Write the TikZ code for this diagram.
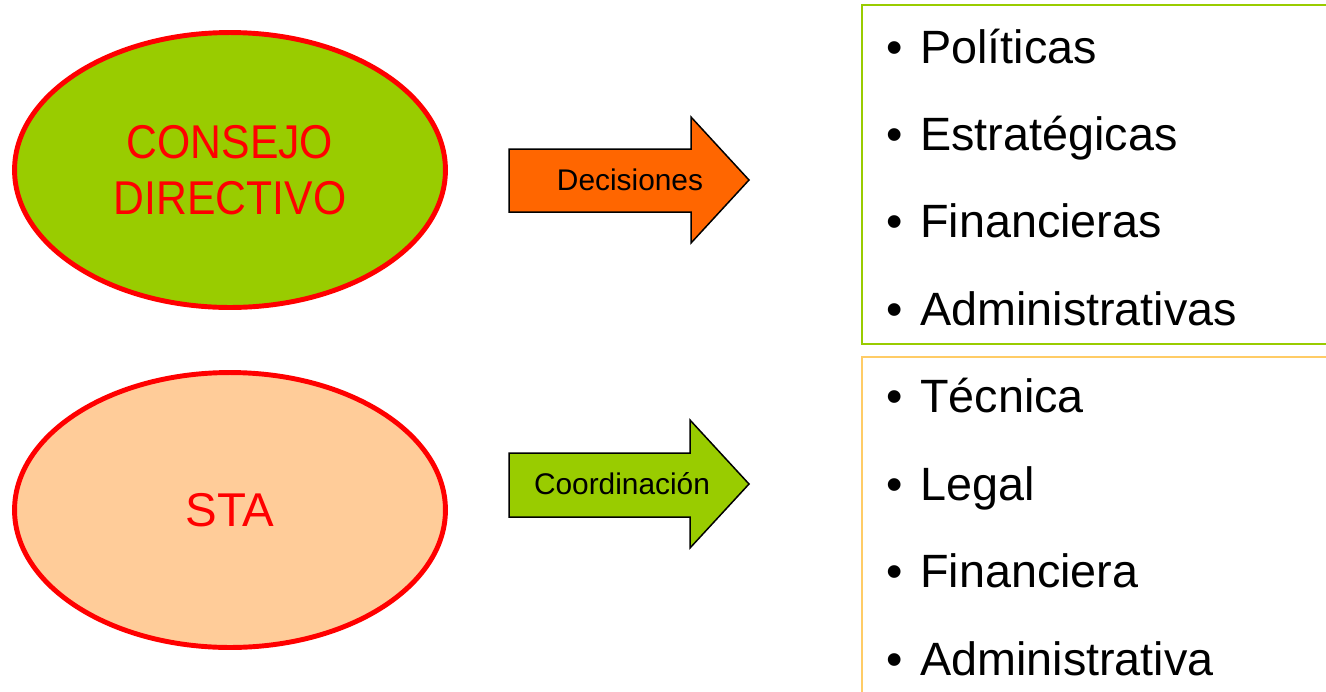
\documentclass[tikz,border=0pt]{standalone}
\usepackage{fontspec}
\setmainfont{Liberation Sans}
\newfontfamily\narrowsans[FakeStretch=0.9]{Liberation Sans}
\usetikzlibrary{shapes.geometric}
\definecolor{leafgreen}{HTML}{99CC00}
\definecolor{deeporange}{HTML}{FF6600}
\definecolor{peach}{HTML}{FFCC99}
\definecolor{sandline}{HTML}{FFCC66}
\tikzset{
	oval/.style={ellipse, draw=red, line width=2.8pt, minimum width=8.62cm, minimum height=5.5cm, text=red, align=center, font=\narrowsans\fontsize{27}{31.7}\selectfont},
	blockarrow/.style={draw=black, line width=0.85pt},
	arrowlabel/.style={inner sep=0pt, font=\fontsize{17}{20}\selectfont},
	listbox/.style={line width=0.9pt},
	item/.style={anchor=base west, inner sep=0pt, font=\fontsize{26.6}{30}\selectfont}
}

\begin{document}
\begin{tikzpicture}[x=0.02cm, y=-0.02cm]
			%%%%% START %%%%%
			\clip (0, 0) rectangle (1326, 691);
			
			\node[oval, fill=leafgreen] (consejo) at (230, 170) {CONSEJO\\DIRECTIVO};
			\node[oval, fill=peach, font=\fontsize{27}{31.7}\selectfont] (sta) at (230, 510) {\raisebox{-1.5pt}{STA}};
			
			\draw[blockarrow, fill=deeporange] (509, 149) -- (691, 149) -- (691, 117) -- (749, 180) -- (691, 243) -- (691, 212) -- (509, 212) -- cycle;
			\node[arrowlabel] (decisiones) at (630, 180) {Decisiones};
			
			\draw[blockarrow, fill=leafgreen] (509, 453) -- (690, 453) -- (690, 420) -- (749, 484) -- (690, 548) -- (690, 517) -- (509, 517) -- cycle;
			\node[arrowlabel] (coordinacion) at (622, 484) {Coordinación};
			
			\draw[listbox, draw=leafgreen] (862, 5) rectangle (1345, 344);
			\draw[listbox, draw=sandline] (862, 357) rectangle (1345, 710);
			
			\node[item] (politicas) at (886, 63) {•\hspace{10pt}Políticas};
			\node[item] (estrategicas) at (886, 150.4) {•\hspace{10pt}Estratégicas};
			\node[item] (financieras) at (886, 237.9) {•\hspace{10pt}Financieras};
			\node[item] (administrativas) at (886, 325.3) {•\hspace{10pt}Administrativas};
			
			\node[item] (tecnica) at (886, 412.7) {•\hspace{10pt}Técnica};
			\node[item] (legal) at (886, 500.1) {•\hspace{10pt}Legal};
			\node[item] (financiera) at (886, 587.6) {•\hspace{10pt}Financiera};
			\node[item] (administrativa) at (886, 675) {•\hspace{10pt}Administrativa};
			
			%%%%% END %%%%%
\end{tikzpicture}
\end{document}
